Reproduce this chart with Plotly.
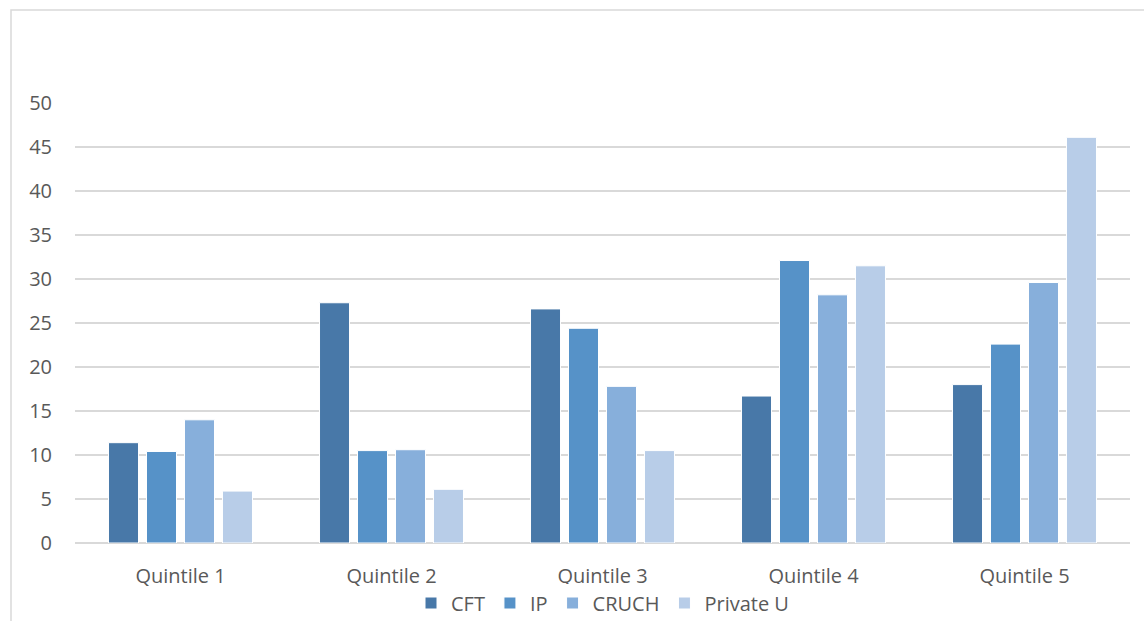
import plotly.graph_objects as go

# Share of each institution type by income quintile
quintiles = ["Quintile 1", "Quintile 2", "Quintile 3", "Quintile 4", "Quintile 5"]
cft = [11.4, 27.3, 26.6, 16.7, 18.0]
ip = [10.4, 10.5, 24.4, 32.1, 22.6]
cruch = [14.0, 10.6, 17.8, 28.2, 29.6]
private_u = [5.9, 6.1, 10.5, 31.5, 46.1]

series = [
    ("CFT", cft, "#4878a8"),
    ("IP", ip, "#5692c8"),
    ("CRUCH", cruch, "#87afdb"),
    ("Private U", private_u, "#b8cde8"),
]

W, H = 1144, 621
ML, MR, MT, MB = 75, 14, 103, 78
PW, PH = W - ML - MR, H - MT - MB

fig = go.Figure()
for name, vals, color in series:
    fig.add_trace(go.Bar(
        x=quintiles, y=vals, name=name,
        marker=dict(color=color, line=dict(color="white", width=1)),
    ))

def px_x(p):
    return (p - ML) / PW

def px_y(p):
    return 1 - (p - MT) / PH

# light frame around the chart area
fig.add_shape(type="rect", xref="paper", yref="paper",
              x0=px_x(11), x1=px_x(1160), y0=px_y(640), y1=px_y(10),
              line=dict(color="#d9d9d9", width=1.5), fillcolor="rgba(0,0,0,0)",
              layer="below")

fig.update_layout(
    width=W, height=H,
    margin=dict(l=ML, r=MR, t=MT, b=MB, autoexpand=False),
    paper_bgcolor="white", plot_bgcolor="white",
    font=dict(family="Open Sans, sans-serif", size=20, color="#595959"),
    barmode="group", bargap=0.28, bargroupgap=0.21,
    showlegend=True,
    legend=dict(orientation="h", x=0.5, xanchor="center",
                y=px_y(603), yanchor="middle",
                font=dict(size=20, color="#595959"),
                itemwidth=30, tracegroupgap=0),
    xaxis=dict(showgrid=False, showline=False, ticks="", ticklabelstandoff=19),
    yaxis=dict(range=[0, 50], dtick=5, showgrid=True, gridcolor="#d9d9d9",
               gridwidth=1.5, zeroline=True, zerolinecolor="#d9d9d9",
               zerolinewidth=1.5, showline=False, ticks="",
               ticklabelstandoff=22),
)

fig.write_html("out.html")
